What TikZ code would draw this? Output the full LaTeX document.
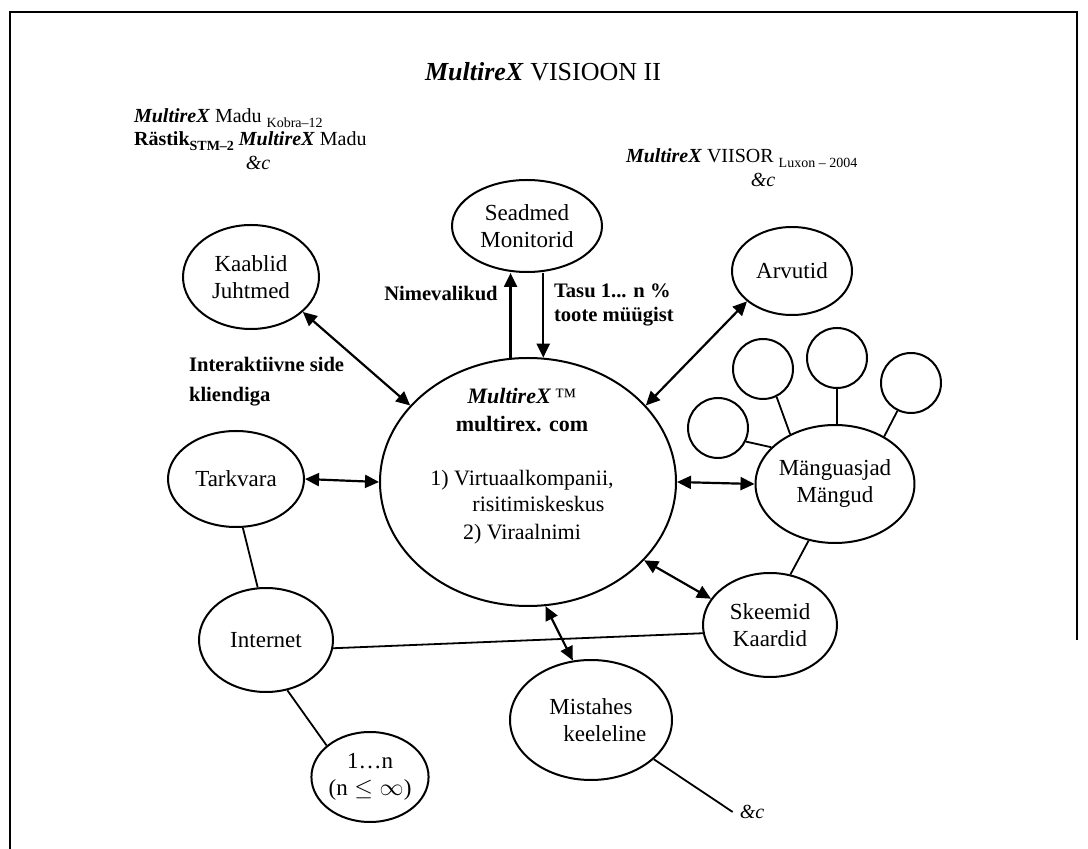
\documentclass[tikz,border=0pt]{standalone}
\usepackage{amsmath}
\usepackage{fontspec}
\setmainfont{Liberation Serif}
\usepackage{tikz}
\usetikzlibrary{arrows.meta,shapes.geometric}

\newcommand{\mrx}{\textbf{\textit{MultireX}}}
\newcommand{\lowsub}[1]{\raisebox{-0.5ex}{\scriptsize #1}}

\begin{document}
\begin{tikzpicture}[x=0.5pt, y=-0.5pt,
        ell/.style={draw, ellipse, line width=1pt, inner sep=0pt, align=center, font=\fontsize{11.5}{13.5}\selectfont},
        toy/.style={draw, circle, line width=1pt, minimum size=30pt, inner sep=0pt},
        flow/.style={{Triangle[length=7pt,width=6.5pt]}-{Triangle[length=7pt,width=6.5pt]}, line width=1.1pt},
        oneway/.style={-{Triangle[length=7pt,width=6.5pt]}, line width=1.1pt},
        link/.style={line width=0.9pt},
        guard/.style={font=\fontsize{10.3}{12}\selectfont\bfseries, align=left}
    ]
        \useasboundingbox (0,0) rectangle (1088,849);
        \draw[line width=1.1pt] (10,849) -- (10,12) -- (1077,12) -- (1077,640);

        % headings
        \node (title) at (543,72) {\fontsize{13}{15}\selectfont\mrx{} VISIOON II};
        \node[anchor=west] (madu) at (127,118) {\mrx{} Madu \lowsub{Kobra--12}};
        \node[anchor=west] (rastik) at (127,141) {\textbf{Rästik}\lowsub{\textbf{STM--2}} \mrx{} Madu};
        \node (etcone) at (258,163) {\textit{\&c}};
        \node[anchor=west] (viisor) at (619,158) {\mrx{} VIISOR \lowsub{Luxon -- 2004}};
        \node (etctwo) at (763,180) {\textit{\&c}};

        % ellipses
        \node[ell, minimum width=148pt, minimum height=124pt] (main) at (528,482) {};
        \node[align=center, font=\fontsize{11}{13}\selectfont] (maintext) at (522,466)
            {\mrx{}\,™\\[1pt] \textbf{multirex. com}\\[14pt] 1) Virtuaalkompanii,\\ \hspace*{1.5em}risitimiskeskus\\[1pt] 2) Viraalnimi};
        \node[ell, minimum width=68pt, minimum height=52pt] (kaablid) at (251,277) {Kaablid\\Juhtmed};
        \node[ell, minimum width=75pt, minimum height=46pt] (seadmed) at (527,226) {Seadmed\\Monitorid};
        \node[ell, minimum width=60pt, minimum height=44pt] (arvutid) at (792,271) {Arvutid};
        \node[ell, minimum width=68pt, minimum height=48pt] (tarkvara) at (236,479) {Tarkvara};
        \node[ell, minimum width=73pt, minimum height=59pt] (mang) at (835,484) {Mänguasjad\\Mängud};
        \node[ell, minimum width=67pt, minimum height=52pt] (skeemid) at (770,625) {Skeemid\\Kaardid};
        \node[ell, minimum width=67pt, minimum height=52pt] (internet) at (266,640) {Internet};
        \node[ell, minimum width=52pt, minimum height=45pt] (many) at (370,777) {1\dots n\\($\mathrm{n}\leq\infty$)};
        \node[ell, minimum width=81pt, minimum height=60pt] (mistahes) at (591,720) {Mistahes\\\hspace*{1.2em}keeleline};
        \node (etcthree) at (752,812) {\textit{\&c}};

        % toys
        \node[toy] (toya) at (718,428) {};
        \node[toy] (toyb) at (763,369) {};
        \node[toy] (toyc) at (837,358) {};
        \node[toy] (toyd) at (911,383) {};

        % labels
        \node[guard] (nimi) at (441,293) {Nimevalikud};
        \node[guard, anchor=west] (tasu) at (547,305) {Tasu 1... n \%\\toote müügist};
        \node[guard, anchor=west] (side) at (182,382) {Interaktiivne side\\[3pt]kliendiga};

        % connectors
        \draw[oneway] (main.98) -- (main.98 |- seadmed.south);
        \draw[oneway] (main.83 |- seadmed.south) -- (main.83);
        \draw[flow] (kaablid.-34) -- (main.147);
        \draw[flow] (arvutid.-146) -- (main.33);
        \draw[flow] (tarkvara.east) -- (main.west);
        \draw[flow] (main.-0.5) -- (mang.west);
        \draw[flow] (main.-34) -- (skeemid.156);
        \draw[flow] (main.-82) -- (mistahes.107);
        \draw[link] (tarkvara.-82) -- (internet.99);
        \draw[link] (internet.-7) -- (skeemid.-173);
        \draw[link] (internet.-67) -- (many.144);
        \draw[link] (mang.-115) -- (skeemid.68);
        \draw[link] (toya.-26) -- (mang.150);
        \draw[link] (toyb.-64) -- (mang.132);
        \draw[link] (toyc.south) -- (toyc.south |- mang.north);
        \draw[link] (toyd.-116) -- (mang.44);
        \draw[link] (mistahes.-32) -- (etcthree.west);
    \end{tikzpicture}
\end{document}
